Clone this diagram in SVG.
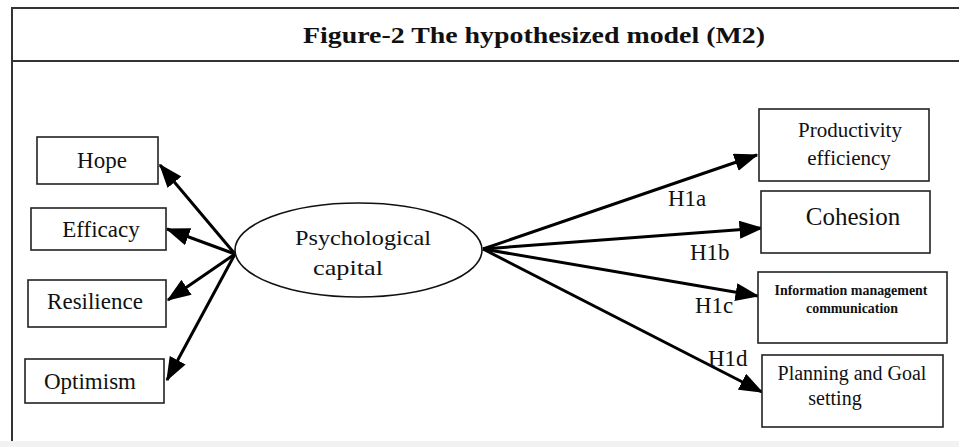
<svg xmlns="http://www.w3.org/2000/svg" width="959" height="447" viewBox="0 0 959 447">
<defs>
<marker id="ah" markerWidth="8" markerHeight="6" refX="7.5" refY="3" orient="auto" markerUnits="strokeWidth">
<path d="M0,0 L8,3 L0,6 Z" fill="#000"/>
</marker>
<style>
.frame{fill:none;stroke:#333;stroke-width:2}
.box{fill:#fff;stroke:#222;stroke-width:1.6}
.c{stroke:#000;stroke-width:3;fill:none;marker-end:url(#ah)}
text{fill:#111}
</style>
</defs>
<rect x="0" y="0" width="959" height="447" fill="#fff"/>
<rect x="0" y="441" width="959" height="6" fill="#f2f2f2"/>
<g id="frame">
<line class="frame" x1="12" y1="8" x2="959" y2="8"/>
<line class="frame" x1="12" y1="61" x2="959" y2="61"/>
<line class="frame" x1="12" y1="7" x2="12" y2="441"/>
<text font-family="Liberation Serif, Times New Roman, Times, serif" x="534" y="43" text-anchor="middle" font-size="24" font-weight="bold" textLength="462" lengthAdjust="spacingAndGlyphs">Figure-2 The hypothesized model (M2)</text>
</g>
<g id="connectors">
<line class="c" x1="235" y1="254" x2="160" y2="165"/>
<line class="c" x1="235" y1="254" x2="167" y2="229"/>
<line class="c" x1="235" y1="254" x2="168" y2="300"/>
<line class="c" x1="235" y1="254" x2="167" y2="380"/>
<line class="c" x1="483" y1="249" x2="757" y2="155"/>
<line class="c" x1="483" y1="249" x2="762" y2="228"/>
<line class="c" x1="483" y1="249" x2="758" y2="296"/>
<line class="c" x1="483" y1="249" x2="762" y2="392"/>
</g>
<g id="labels" font-family="Liberation Serif, Times New Roman, Times, serif" font-size="23">
<text x="668" y="206">H1a</text>
<text x="690" y="260">H1b</text>
<text x="695" y="313">H1c</text>
<text x="708" y="366">H1d</text>
</g>
<g id="psycap" font-family="Liberation Serif, Times New Roman, Times, serif">
<ellipse cx="358.5" cy="250" rx="123.5" ry="47" fill="#fff" stroke="#111" stroke-width="1.6"/>
<text x="363" y="245" text-anchor="middle" font-size="22" textLength="136" lengthAdjust="spacingAndGlyphs">Psychological</text>
<text x="348" y="275" text-anchor="middle" font-size="22" textLength="70" lengthAdjust="spacingAndGlyphs">capital</text>
</g>
<g id="hope" font-family="Liberation Serif, Times New Roman, Times, serif" font-size="23">
<rect class="box" x="37" y="137" width="121" height="47"/>
<text x="102" y="168" text-anchor="middle">Hope</text>
</g>
<g id="efficacy" font-family="Liberation Serif, Times New Roman, Times, serif" font-size="23">
<rect class="box" x="31" y="208" width="135" height="42"/>
<text x="101" y="237" text-anchor="middle">Efficacy</text>
</g>
<g id="resilience" font-family="Liberation Serif, Times New Roman, Times, serif" font-size="23">
<rect class="box" x="28" y="280" width="138" height="47"/>
<text x="95" y="309" text-anchor="middle">Resilience</text>
</g>
<g id="optimism" font-family="Liberation Serif, Times New Roman, Times, serif" font-size="23">
<rect class="box" x="25" y="359" width="139" height="44"/>
<text x="90" y="389" text-anchor="middle">Optimism</text>
</g>
<g id="productivity" font-family="Liberation Serif, Times New Roman, Times, serif" font-size="21">
<rect class="box" x="759" y="109" width="170" height="72"/>
<text x="850" y="137" text-anchor="middle">Productivity</text>
<text x="849" y="165" text-anchor="middle">efficiency</text>
</g>
<g id="cohesion" font-family="Liberation Serif, Times New Roman, Times, serif" font-size="25">
<rect class="box" x="761" y="191" width="169" height="62"/>
<text x="853" y="225" text-anchor="middle">Cohesion</text>
</g>
<g id="information" font-family="Liberation Serif, Times New Roman, Times, serif" font-size="14" font-weight="600">
<rect class="box" x="758" y="272" width="189" height="71"/>
<text x="851" y="295" text-anchor="middle" textLength="153" lengthAdjust="spacingAndGlyphs">Information management</text>
<text x="852" y="313" text-anchor="middle" textLength="92" lengthAdjust="spacingAndGlyphs">communication</text>
</g>
<g id="planning" font-family="Liberation Serif, Times New Roman, Times, serif" font-size="20">
<rect class="box" x="762" y="355" width="181" height="72"/>
<text x="852" y="380" text-anchor="middle">Planning and Goal</text>
<text x="835" y="405" text-anchor="middle">setting</text>
</g>
</svg>
